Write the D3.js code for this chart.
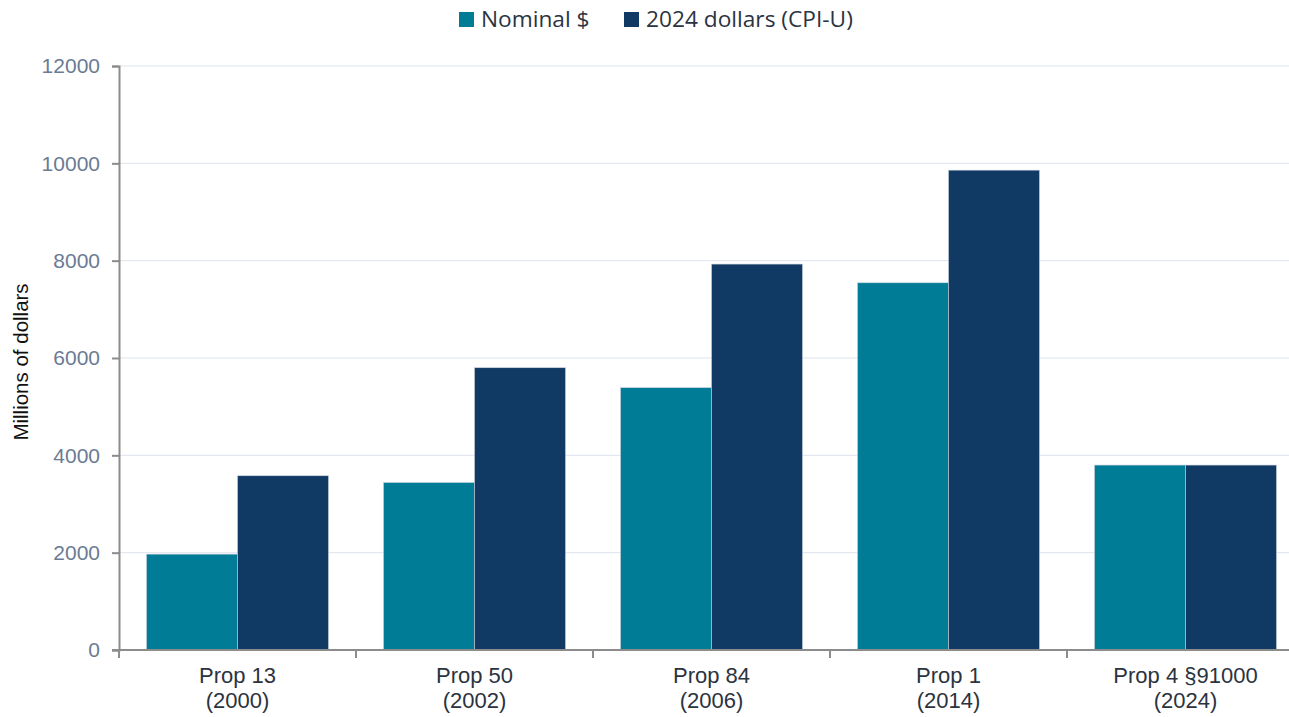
<!DOCTYPE html>
<html><head><meta charset="utf-8">
<script src="https://cdn.jsdelivr.net/npm/d3@7/dist/d3.min.js"></script>
<style>body{margin:0;background:#fff}svg{display:block}</style>
</head><body>
<svg id="c" width="1289" height="717"></svg>
<script>
const categories = [["Prop 13","(2000)"],["Prop 50","(2002)"],["Prop 84","(2006)"],["Prop 1","(2014)"],["Prop 4 §91000","(2024)"]];
const seriesNames = ["Nominal $","2024 dollars (CPI-U)"];
const nominal = [1970, 3440, 5390, 7545, 3800];
const real2024 = [3580, 5800, 7930, 9860, 3800];
const yTicks = [0,2000,4000,6000,8000,10000,12000];
const colors = ["#007C96","#103A64"];

(function(){
const svg = d3.select("#c");
const W = 1289, mLeft = 119, mTop = 66, mBottom = 650;
const x = d3.scaleBand().domain(d3.range(categories.length)).range([mLeft, 1304]).paddingInner(0).paddingOuter(0);
const y = d3.scaleLinear().domain([0,12000]).range([mBottom, mTop]);
const inner = 182/237;
const xs = d3.scaleBand().domain([0,1]).range([0, x.bandwidth()*inner]);

// gridlines
svg.append("g").selectAll("line").data(yTicks.filter(d=>d>0)).join("line")
  .attr("x1", mLeft).attr("x2", W).attr("y1", d=>y(d)).attr("y2", d=>y(d))
  .attr("stroke", "#dde3ee").attr("stroke-width", 1);

// bars
const series = [nominal, real2024];
const g = svg.append("g");
categories.forEach((c,i)=>{
  const x0 = x(i) + x.bandwidth()*(1-inner)/2;
  series.forEach((s,j)=>{
    g.append("rect").attr("x", x0 + xs(j)).attr("width", xs.bandwidth())
      .attr("y", y(s[i])).attr("height", y(0)-y(s[i]))
      .attr("fill", colors[j]).attr("stroke", "#c8d0dc").attr("stroke-width", 0.6);
  });
});

// y axis
const ya = svg.append("g").attr("transform", `translate(${mLeft},0)`)
  .call(d3.axisLeft(y).tickValues(yTicks).tickSize(7).tickPadding(12).tickFormat(d3.format("d")));
ya.select(".domain").attr("stroke", "#8c8c8c").attr("stroke-width", 2);
ya.selectAll(".tick line").attr("stroke", "#8c8c8c").attr("stroke-width", 2);
ya.selectAll(".tick text").attr("fill", "#6b7b93").attr("font-size", 21).attr("font-family", "Liberation Sans, Arial, sans-serif");

// x axis
const xa = svg.append("g").attr("transform", `translate(0,${mBottom})`);
xa.append("line").attr("x1", mLeft-7).attr("x2", W).attr("stroke", "#8c8c8c").attr("stroke-width", 2);
xa.selectAll("line.t").data(d3.range(categories.length)).join("line").attr("class","t")
  .attr("x1", d=>x(d)).attr("x2", d=>x(d)).attr("y1", 0).attr("y2", 8)
  .attr("stroke", "#8c8c8c").attr("stroke-width", 2);
const lab = xa.selectAll("text").data(categories).join("text")
  .attr("text-anchor", "middle").attr("fill", "#2b3340").attr("font-size", 22)
  .attr("font-family", "Liberation Sans, Arial, sans-serif");
lab.append("tspan").attr("x", (d,i)=>x(i)+x.bandwidth()/2).attr("y", 33).text(d=>d[0]);
lab.append("tspan").attr("x", (d,i)=>x(i)+x.bandwidth()/2).attr("y", 58).text(d=>d[1]);

// y title
svg.append("text").attr("transform", "translate(28,362) rotate(-90)").attr("text-anchor", "middle")
  .attr("font-size", 20.5).attr("fill", "#111").attr("font-family", "Liberation Sans, Arial, sans-serif")
  .text("Millions of dollars");

// legend
const leg = svg.append("g").attr("font-family", "Open Sans, Noto Sans, sans-serif").attr("font-size", 22.7).attr("fill", "#2a3442");
const legX = [459, 624];
seriesNames.forEach((n,j)=>{
  leg.append("rect").attr("x", legX[j]).attr("y", 12).attr("width", 15).attr("height", 15).attr("fill", colors[j]);
  leg.append("text").attr("x", legX[j]+22).attr("y", 27).text(n);
});
})();
</script>
</body></html>
